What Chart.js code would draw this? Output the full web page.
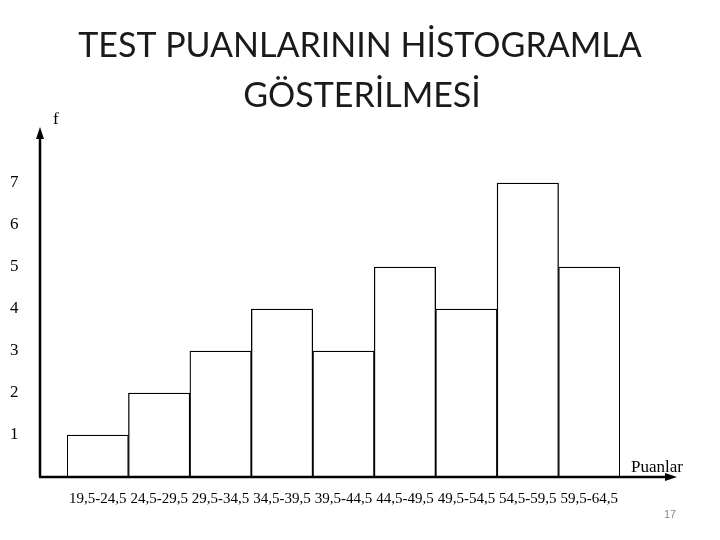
<!DOCTYPE html>
<html>
<head>
<meta charset="utf-8">
<script src="https://cdn.jsdelivr.net/npm/chart.js@4"></script>
<style>
  html, body { margin: 0; padding: 0; background: #fff; }
  #wrap { width: 720px; height: 540px; }
</style>
</head>
<body>
<div id="wrap"><canvas id="histChart" width="720" height="540"></canvas></div>
<script>
// score intervals and frequencies
const intervals = ['19,5-24,5', '24,5-29,5', '29,5-34,5', '34,5-39,5', '39,5-44,5',
                   '44,5-49,5', '49,5-54,5', '54,5-59,5', '59,5-64,5'];
const frequencies = [1, 2, 3, 4, 3, 5, 4, 7, 5];
const yTicks = [1, 2, 3, 4, 5, 6, 7];
const titleLines = ['TEST PUANLARININ HİSTOGRAMLA', 'GÖSTERİLMESİ'];

const serif = '"Liberation Serif", "DejaVu Serif", serif';

// title, arrows for the axes, axis names and page number
const decorPlugin = {
    id: 'decor',
    afterDatasetsDraw(chart) {
        const ctx = chart.ctx;
        const area = chart.chartArea;
        const ox = area.left - 27;
        const oy = area.bottom;
        ctx.save();

        // slide title
        ctx.fillStyle = '#1a1a1a';
        ctx.font = '34px Lato, "Open Sans", sans-serif';
        ctx.textAlign = 'center';
        ctx.textBaseline = 'middle';
        ctx.fillText(titleLines[0], 360, 46);
        ctx.fillText(titleLines[1], 362, 96);

        ctx.strokeStyle = '#000';
        ctx.fillStyle = '#000';
        ctx.lineWidth = 2.5;
        ctx.beginPath();
        ctx.moveTo(ox, oy);
        ctx.lineTo(ox, area.top - 6);
        ctx.moveTo(ox - 1, oy);
        ctx.lineTo(area.right + 48, oy);
        ctx.stroke();
        // arrow heads
        ctx.beginPath();
        ctx.moveTo(ox, area.top - 14);
        ctx.lineTo(ox - 4, area.top - 2);
        ctx.lineTo(ox + 4, area.top - 2);
        ctx.closePath();
        ctx.fill();
        ctx.beginPath();
        ctx.moveTo(area.right + 57, oy);
        ctx.lineTo(area.right + 45, oy - 4);
        ctx.lineTo(area.right + 45, oy + 4);
        ctx.closePath();
        ctx.fill();

        ctx.font = '17px ' + serif;
        ctx.textBaseline = 'alphabetic';
        ctx.textAlign = 'left';
        ctx.fillText('f', ox + 13, area.top - 17);
        ctx.fillText('Puanlar', area.right + 11, oy - 5);

        ctx.fillStyle = '#8a8a8a';
        ctx.font = '11px "Liberation Sans", sans-serif';
        ctx.textAlign = 'center';
        ctx.fillText('17', 670, 518);
        ctx.restore();
    }
};

document.addEventListener('DOMContentLoaded', function() {
    const ctx = document.getElementById('histChart');
    new Chart(ctx, {
        type: 'bar',
        data: {
            labels: intervals,
            datasets: [{
                label: 'f',
                data: frequencies,
                backgroundColor: '#ffffff',
                borderColor: '#000000',
                borderWidth: 1.3,
                borderSkipped: 'bottom',
                barPercentage: 1,
                categoryPercentage: 1
            }]
        },
        options: {
            responsive: false,
            animation: false,
            devicePixelRatio: 1,
            layout: { padding: { left: 10, right: 100, top: 141, bottom: 0 } },
            plugins: {
                legend: { display: false },
                tooltip: { enabled: false },
                title: { display: false }
            },
            scales: {
                x: {
                    grid: { display: false },
                    border: { display: false },
                    ticks: {
                        color: '#000',
                        font: { family: serif, size: 15 },
                        padding: 5,
                        maxRotation: 0,
                        autoSkip: false
                    },
                    afterFit(scale) { scale.height = 63; }
                },
                y: {
                    min: 0,
                    max: 8,
                    grid: { display: false },
                    border: { display: false },
                    afterBuildTicks(scale) {
                        scale.ticks = yTicks.map(v => ({ value: v }));
                    },
                    ticks: {
                        color: '#000',
                        font: { family: serif, size: 17 },
                        crossAlign: 'far'
                    },
                    afterFit(scale) { scale.width = 57; }
                }
            }
        },
        plugins: [decorPlugin]
    });
});
</script>
</body>
</html>
